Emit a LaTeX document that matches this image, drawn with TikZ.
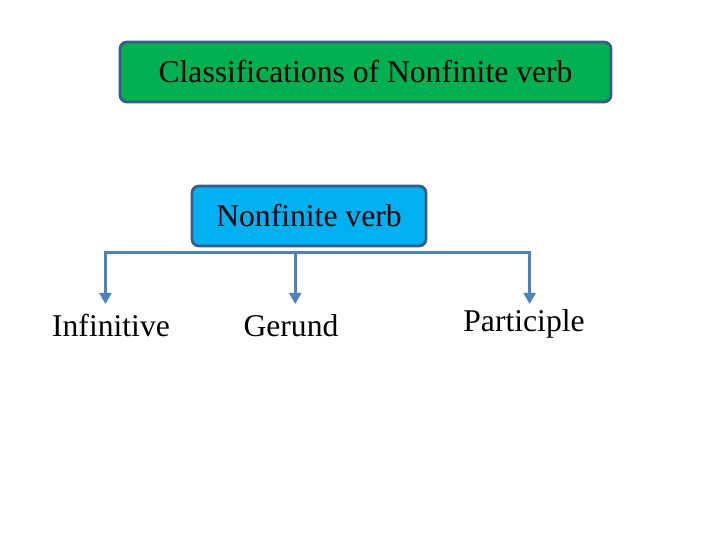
\documentclass[tikz,border=0pt]{standalone}
\usepackage{fontspec}
\setmainfont{Liberation Serif}
\usetikzlibrary{arrows.meta, positioning, calc}

\begin{document}
\begin{tikzpicture}[
    x=0.025cm, y=-0.025cm,
    every node/.style = {font=\fontsize{22.5}{27}\selectfont},
    box/.style = {
        rectangle,
        rounded corners=5pt,
        draw={rgb,255:red,56;green,93;blue,138},
        line width=2pt,
        minimum height=1.5cm,
        align=center
    },
    word/.style = {
        anchor=base,
        inner sep=6.5pt,
        text height=16pt,
        text depth=5pt
    },
    arr/.style = {
        -{Triangle[length=8pt,width=8.5pt]},
        line width=2.2pt,
        color={rgb,255:red,79;green,129;blue,189}
    }
]

%% Page frame
\useasboundingbox (0,0) rectangle (720,540);

%% Boxes
\node[box, fill={rgb,255:red,0;green,176;blue,80}, minimum width=12.275cm]
    (title) at (365.5,72) {Classifications of Nonfinite verb};
\node[box, fill={rgb,255:red,0;green,176;blue,240}, minimum width=5.85cm]
    (nonfinite) at (309,216) {Nonfinite verb};

%% Branches
\node[word]                (infinitive) at (111,336) {Infinitive};
\node[word]                (gerund)     at (291,336) {Gerund};
\node[word, inner sep=3pt] (participle) at (524,331) {Participle};

%% Arrows
\coordinate (split) at ($(nonfinite.south)+(0,5)$);
\draw[arr] (split) -| ([xshift=-4]infinitive.north);
\draw[arr] (split) -| ([xshift=3]gerund.north);
\draw[arr] (split) -| ([xshift=4]participle.north);

\end{tikzpicture}
\end{document}
